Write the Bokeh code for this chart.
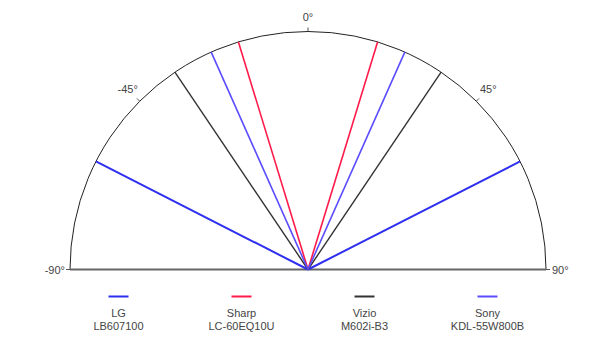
import numpy as np
from bokeh.plotting import figure
from bokeh.models import Range1d
from bokeh.core.properties import value
from bokeh.embed import file_html
from bokeh.resources import INLINE

# Data: viewing-angle limits (degrees from the vertical) per TV
brands = ["LG", "Sharp", "Vizio", "Sony"]
models = ["LB607100", "LC-60EQ10U", "M602i-B3", "KDL-55W800B"]
left_angles = [-63, -17, -34, -24]
right_angles = [63, 17, 34, 24]
colors = ["#2f2ff0", "#ff1a4a", "#333333", "#5a4cff"]
widths = [2.0, 1.6, 1.4, 1.6]

tick_angles = [-90, -45, 0, 45, 90]
tick_labels = ["-90°", "-45°", "0°", "45°", "90°"]

R = 238
FONT = "Liberation Sans"

p = figure(width=599, height=341, output_backend="svg", toolbar_location=None,
           x_range=Range1d(-307.5, 291.5), y_range=Range1d(-72, 269),
           min_border=0, outline_line_color=None)
p.axis.visible = False
p.grid.visible = False

# outer arc and baseline
p.arc(x=0, y=0, radius=R, start_angle=0, end_angle=np.pi, line_color="#222222", line_width=1)
p.segment(x0=[-R], y0=[0], x1=[R], y1=[0], line_color="#666666", line_width=2)

# ticks on the arc
ta = np.radians(tick_angles)
p.segment(x0=R * np.sin(ta), y0=R * np.cos(ta), x1=(R + 4) * np.sin(ta), y1=(R + 4) * np.cos(ta),
          line_color="#555555", line_width=1)

# tick labels
for a, lab in zip(tick_angles, tick_labels):
    r = np.radians(a)
    if a == -90:
        p.text(x=[-R - 5], y=[0], text=[lab], text_align="right", text_baseline="middle",
               text_font=value(FONT), text_font_size="11px", text_color="#444444")
    elif a == 90:
        p.text(x=[R + 6], y=[0], text=[lab], text_align="left", text_baseline="middle",
               text_font=value(FONT), text_font_size="11px", text_color="#444444")
    else:
        rr = 255 if a != 0 else 253
        p.text(x=[rr * np.sin(r)], y=[rr * np.cos(r)], text=[lab], text_align="center",
               text_baseline="middle", text_font=value(FONT), text_font_size="11px",
               text_color="#444444")

# viewing-angle rays
for la, ra, c, w in zip(left_angles, right_angles, colors, widths):
    angs = np.radians([la, ra])
    p.segment(x0=[0, 0], y0=[0, 0], x1=R * np.sin(angs), y1=R * np.cos(angs),
              line_color=c, line_width=w)

# legend
for i, (b, m, c, w) in enumerate(zip(brands, models, colors, widths)):
    cx = -5 + (i - 1.5) * 123
    p.segment(x0=[cx - 10], y0=[-27], x1=[cx + 10], y1=[-27], line_color=c, line_width=2)
    p.text(x=[cx], y=[-43], text=[b], text_align="center", text_baseline="middle",
           text_font=value(FONT), text_font_size="11px", text_color="#444444")
    p.text(x=[cx], y=[-56], text=[m], text_align="center", text_baseline="middle",
           text_font=value(FONT), text_font_size="11px", text_color="#444444")

open("out.html", "w").write(file_html(p, INLINE))
